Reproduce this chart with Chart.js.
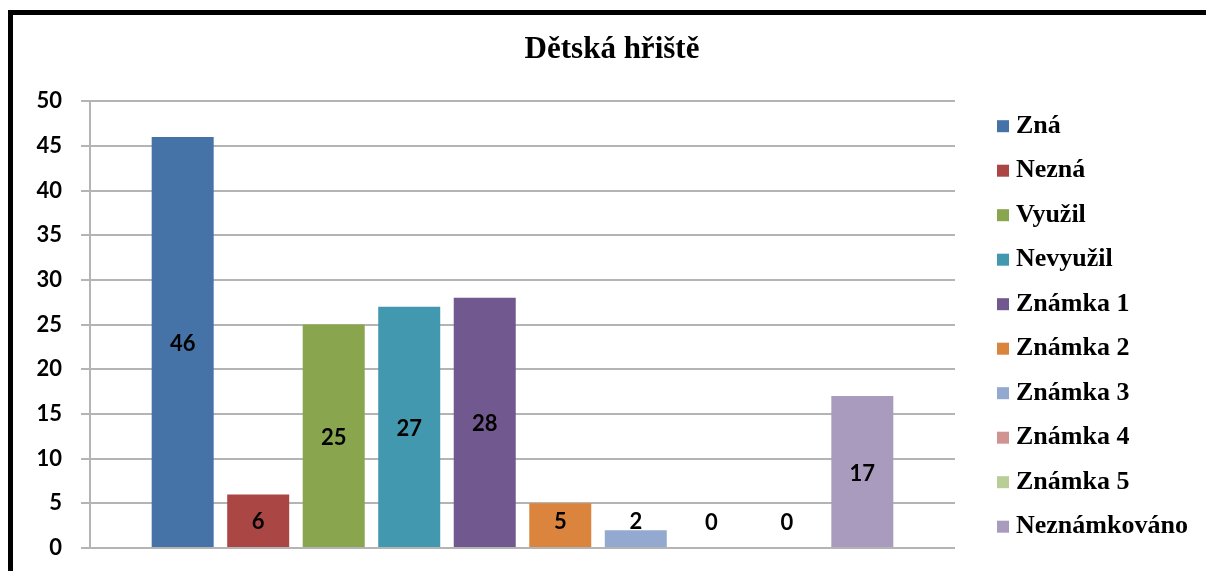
<!DOCTYPE html>
<html>
<head>
<meta charset="utf-8">
<title>Dětská hřiště</title>
<script src="https://cdn.jsdelivr.net/npm/chart.js@4.4.0/dist/chart.umd.min.js"></script>
<style>
    html, body { margin: 0; padding: 0; background: #fff; overflow: hidden; }
    #wrap { position: relative; width: 1206px; height: 571px; }
    #frame {
        position: absolute; left: 8px; top: 10px; width: 2000px; height: 2000px;
        border-top: 5px solid #000; border-left: 5px solid #000;
        pointer-events: none;
    }
</style>
</head>
<body>
<div id="wrap">
    <canvas id="chart" width="1206" height="571"></canvas>
    <div id="frame"></div>
</div>
<script>
// data
const chartTitle = 'Dětská hřiště';
const categories = ['Dětská hřiště'];
const seriesNames = ['Zná', 'Nezná', 'Využil', 'Nevyužil', 'Známka 1', 'Známka 2', 'Známka 3', 'Známka 4', 'Známka 5', 'Neznámkováno'];
const seriesValues = [46, 6, 25, 27, 28, 5, 2, 0, 0, 17];
const seriesColors = ['#4572A7', '#AA4643', '#89A54E', '#4198AF', '#71588F', '#DB843D', '#93A9CF', '#D19392', '#B9CD96', '#A99BBD'];
const yTicks = [0, 5, 10, 15, 20, 25, 30, 35, 40, 45, 50];

const gridColor = '#b4b4b4';
const labelFont = 'bold 22px Lato';
const legendFont = 'bold 26px "Liberation Serif"';

// hodnoty uprostred sloupcu (u malych nad nimi)
const valueLabels = {
    id: 'valueLabels',
    afterDatasetsDraw(chart) {
        const ctx = chart.ctx;
        ctx.save();
        ctx.font = labelFont;
        ctx.fillStyle = '#000';
        ctx.textAlign = 'center';
        ctx.textBaseline = 'middle';
        chart.data.datasets.forEach((ds, i) => {
            const bar = chart.getDatasetMeta(i).data[0];
            if (!bar) return;
            const y = Math.min((bar.y + bar.base) / 2 + 2, bar.base - 25);
            ctx.fillText(String(ds.data[0]), bar.x, y);
        });
        ctx.restore();
    }
};

// legenda vpravo
const sideLegend = {
    id: 'sideLegend',
    afterDraw(chart) {
        const ctx = chart.ctx;
        const area = chart.chartArea;
        const x0 = area.right + 42;
        const y0 = area.top + 25;
        const step = 44.5;
        ctx.save();
        ctx.font = legendFont;
        ctx.textAlign = 'left';
        ctx.textBaseline = 'middle';
        chart.data.datasets.forEach((ds, i) => {
            const y = y0 + i * step;
            ctx.fillStyle = ds.backgroundColor;
            ctx.fillRect(x0, y - 6, 12, 12);
            ctx.fillStyle = '#000';
            ctx.fillText(ds.label, x0 + 19, y);
        });
        ctx.restore();
    }
};

const datasets = seriesNames.map((name, i) => ({
    label: name,
    data: [seriesValues[i]],
    backgroundColor: seriesColors[i],
    borderWidth: 0,
    categoryPercentage: 0.873,
    barPercentage: 0.821
}));

new Chart(document.getElementById('chart'), {
    type: 'bar',
    data: { labels: categories, datasets: datasets },
    options: {
        responsive: false,
        animation: false,
        layout: { padding: { left: 18, right: 0, top: 0, bottom: 23 } },
        plugins: {
            legend: { display: false },
            tooltip: { enabled: false },
            title: {
                display: true,
                text: chartTitle,
                color: '#000',
                font: { family: 'Liberation Serif', size: 31, weight: 'bold', lineHeight: 1.2 },
                padding: { top: 31, bottom: 33 }
            }
        },
        scales: {
            x: {
                display: false
            },
            y: {
                min: 0,
                max: 50,
                afterBuildTicks: (scale) => { scale.ticks = yTicks.map(v => ({ value: v })); },
                afterFit: (scale) => {
                    scale.width = 72;
                    scale.paddingTop = 0;
                    scale.paddingBottom = 0;
                },
                ticks: {
                    color: '#000',
                    font: { family: 'Lato', size: 22, weight: 'bold' },
                    padding: 19
                },
                grid: { color: gridColor, lineWidth: 2, tickLength: 9 },
                border: { display: true, color: gridColor, width: 2 }
            },
            // prazdna osa vpravo jen kvuli mistu pro legendu
            legendSpace: {
                position: 'right',
                display: true,
                ticks: { display: false },
                grid: { display: false },
                border: { display: false },
                afterFit: (scale) => {
                    scale.width = 251;
                    scale.paddingTop = 0;
                    scale.paddingBottom = 0;
                }
            }
        }
    },
    plugins: [valueLabels, sideLegend]
});
</script>
</body>
</html>
